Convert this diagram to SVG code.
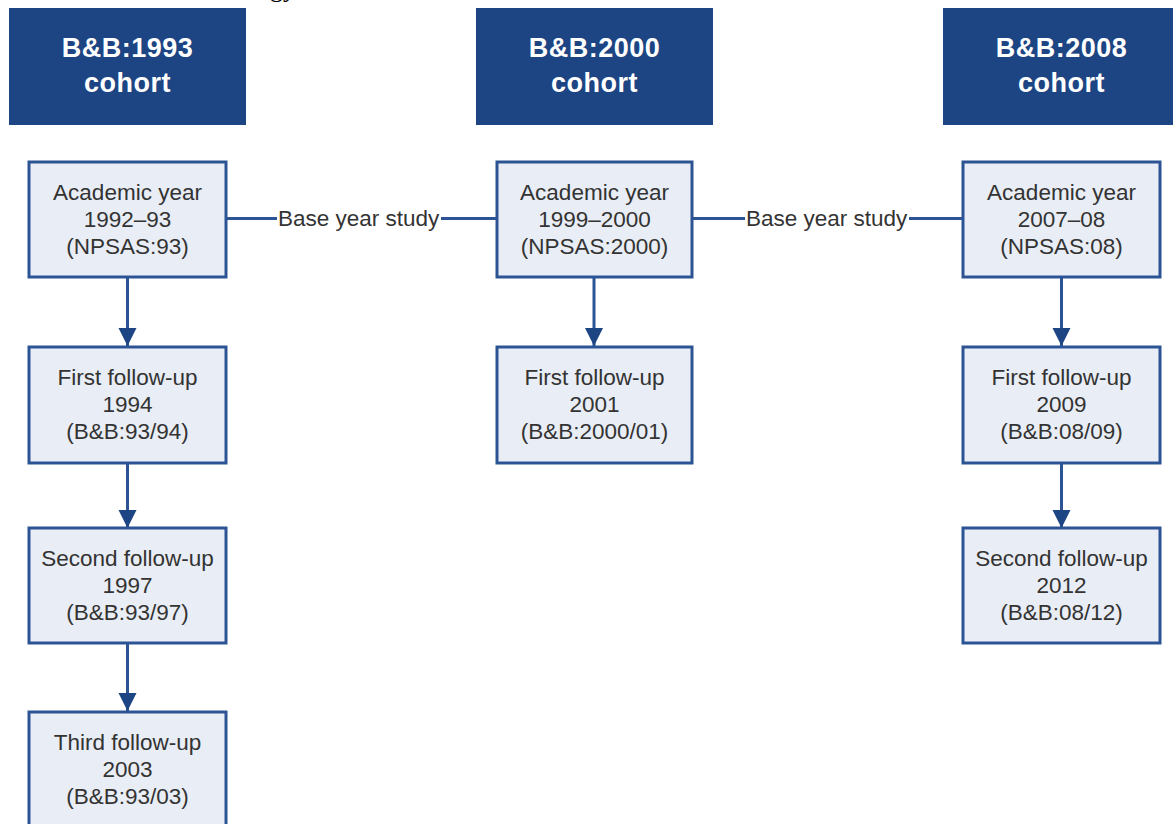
<svg xmlns="http://www.w3.org/2000/svg" width="1173" height="824" viewBox="0 0 1173 824">
<defs>
<style>
.hdr{fill:#1d4583;}
.hdrt{fill:#ffffff;font-family:"Liberation Sans",Arial,sans-serif;font-weight:bold;font-size:27px;text-anchor:middle;letter-spacing:0.5px;}
.box{fill:#e9edf5;stroke:#2c5494;stroke-width:3;}
.bt{fill:#333333;font-family:"Liberation Sans",Arial,sans-serif;font-size:22.5px;text-anchor:middle;}
.lbl{fill:#333333;font-family:"Liberation Sans",Arial,sans-serif;font-size:22.5px;}
.ln{stroke:#2c5494;stroke-width:3;fill:none;}
</style>
<marker id="ah" viewBox="0 0 18 20" refX="18" refY="10" markerWidth="18" markerHeight="20" markerUnits="userSpaceOnUse" orient="auto">
<path d="M0,1 L18,10 L0,19 z" fill="#1d4583"/>
</marker>
</defs>
<rect width="1173" height="824" fill="#ffffff"/>
<text x="270" y="-3" font-family="'Liberation Serif','Times New Roman',serif" font-size="26" fill="#000000">gy</text>

<g id="connectors">
<line class="ln" x1="226" y1="218.5" x2="277" y2="218.5"/>
<line class="ln" x1="441" y1="218.5" x2="497" y2="218.5"/>
<line class="ln" x1="692" y1="218.5" x2="745" y2="218.5"/>
<line class="ln" x1="909" y1="218.5" x2="963" y2="218.5"/>
<text class="lbl" x="278" y="226">Base year study</text>
<text class="lbl" x="746" y="226">Base year study</text>
<line class="ln" x1="127.5" y1="277" x2="127.5" y2="346" marker-end="url(#ah)"/>
<line class="ln" x1="127.5" y1="463" x2="127.5" y2="528" marker-end="url(#ah)"/>
<line class="ln" x1="127.5" y1="643" x2="127.5" y2="711" marker-end="url(#ah)"/>
<line class="ln" x1="594" y1="277" x2="594" y2="346" marker-end="url(#ah)"/>
<line class="ln" x1="1061.5" y1="277" x2="1061.5" y2="346" marker-end="url(#ah)"/>
<line class="ln" x1="1061.5" y1="463" x2="1061.5" y2="528" marker-end="url(#ah)"/>
</g>

<g id="hdr1993">
<rect class="hdr" x="9" y="8" width="237" height="117"/>
<text class="hdrt" x="127.5" y="57">B&amp;B:1993</text>
<text class="hdrt" x="127.5" y="92">cohort</text>
</g>
<g id="hdr2000">
<rect class="hdr" x="476" y="8" width="237" height="117"/>
<text class="hdrt" x="594.5" y="57">B&amp;B:2000</text>
<text class="hdrt" x="594.5" y="92">cohort</text>
</g>
<g id="hdr2008">
<rect class="hdr" x="943" y="8" width="237" height="117"/>
<text class="hdrt" x="1061.5" y="57">B&amp;B:2008</text>
<text class="hdrt" x="1061.5" y="92">cohort</text>
</g>

<g id="c1base">
<rect class="box" x="29" y="162" width="197" height="115"/>
<text class="bt" x="127.5" y="200">Academic year</text>
<text class="bt" x="127.5" y="227">1992–93</text>
<text class="bt" x="127.5" y="254">(NPSAS:93)</text>
</g>
<g id="c1f1">
<rect class="box" x="29" y="347" width="197" height="116"/>
<text class="bt" x="127.5" y="385">First follow-up</text>
<text class="bt" x="127.5" y="412">1994</text>
<text class="bt" x="127.5" y="439">(B&amp;B:93/94)</text>
</g>
<g id="c1f2">
<rect class="box" x="29" y="528" width="197" height="115"/>
<text class="bt" x="127.5" y="566">Second follow-up</text>
<text class="bt" x="127.5" y="593">1997</text>
<text class="bt" x="127.5" y="620">(B&amp;B:93/97)</text>
</g>
<g id="c1f3">
<rect class="box" x="29" y="712" width="197" height="116"/>
<text class="bt" x="127.5" y="750">Third follow-up</text>
<text class="bt" x="127.5" y="777">2003</text>
<text class="bt" x="127.5" y="804">(B&amp;B:93/03)</text>
</g>

<g id="c2base">
<rect class="box" x="497" y="162" width="195" height="115"/>
<text class="bt" x="594.5" y="200">Academic year</text>
<text class="bt" x="594.5" y="227">1999–2000</text>
<text class="bt" x="594.5" y="254">(NPSAS:2000)</text>
</g>
<g id="c2f1">
<rect class="box" x="497" y="347" width="195" height="116"/>
<text class="bt" x="594.5" y="385">First follow-up</text>
<text class="bt" x="594.5" y="412">2001</text>
<text class="bt" x="594.5" y="439">(B&amp;B:2000/01)</text>
</g>

<g id="c3base">
<rect class="box" x="963" y="162" width="197" height="115"/>
<text class="bt" x="1061.5" y="200">Academic year</text>
<text class="bt" x="1061.5" y="227">2007–08</text>
<text class="bt" x="1061.5" y="254">(NPSAS:08)</text>
</g>
<g id="c3f1">
<rect class="box" x="963" y="347" width="197" height="116"/>
<text class="bt" x="1061.5" y="385">First follow-up</text>
<text class="bt" x="1061.5" y="412">2009</text>
<text class="bt" x="1061.5" y="439">(B&amp;B:08/09)</text>
</g>
<g id="c3f2">
<rect class="box" x="963" y="528" width="197" height="115"/>
<text class="bt" x="1061.5" y="566">Second follow-up</text>
<text class="bt" x="1061.5" y="593">2012</text>
<text class="bt" x="1061.5" y="620">(B&amp;B:08/12)</text>
</g>
</svg>
